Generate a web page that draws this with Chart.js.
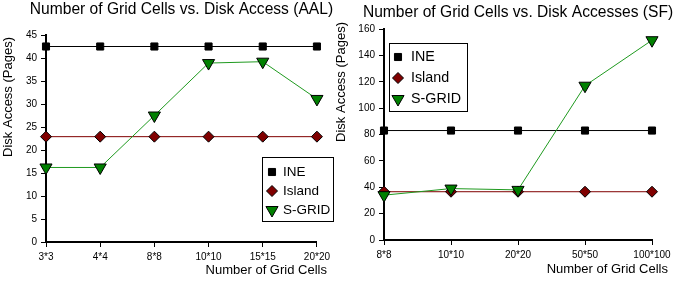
<!DOCTYPE html>
<html>
<head>
<meta charset="utf-8">
<script src="https://cdn.jsdelivr.net/npm/chart.js@4.4.0/dist/chart.umd.min.js"></script>
<style>
  html, body { margin: 0; padding: 0; background: #fff; }
  #wrap { position: relative; width: 681px; height: 284px; }
  canvas { position: absolute; top: 0; }
  #aalChart { left: 0; }
  #sfChart { left: 334px; }
</style>
</head>
<body>
<div id="wrap">
  <canvas id="aalChart" width="334" height="284"></canvas>
  <canvas id="sfChart" width="347" height="284"></canvas>
</div>
<script>
const FONT = "'Liberation Sans', Arial, sans-serif";

// left chart (AAL)
const aalCategories = ["3*3", "4*4", "8*8", "10*10", "15*15", "20*20"];
const aalIne = [42.5, 42.5, 42.5, 42.5, 42.5, 42.5];
const aalIsland = [22.9, 22.9, 22.9, 22.9, 22.9, 22.9];
const aalSgrid = [16.2, 16.2, 27.5, 38.9, 39.2, 31.1];

// right chart (SF)
const sfCategories = ["8*8", "10*10", "20*20", "50*50", "100*100"];
const sfIne = [83, 83, 83, 83, 83];
const sfIsland = [36.6, 36.6, 36.6, 36.6, 36.6];
const sfSgrid = [34, 39, 38, 117, 151.5];

const seriesNames = ["INE", "Island", "S-GRID"];

Chart.defaults.font.family = FONT;
Chart.defaults.color = "#000";

const boxLegend = {
  id: "boxLegend",
  afterDraw(chart, args, opts) {
    const ctx = chart.ctx;
    ctx.save();
    ctx.fillStyle = "#fff";
    ctx.fillRect(opts.x, opts.y, opts.w, opts.h);
    ctx.strokeStyle = "#000";
    ctx.lineWidth = 1;
    ctx.strokeRect(opts.x + 0.5, opts.y + 0.5, opts.w - 1, opts.h - 1);
    ctx.font = `${opts.size}px ${FONT}`;
    ctx.textBaseline = "middle";
    ctx.textAlign = "left";
    chart.data.datasets.forEach((ds, i) => {
      const cy = opts.y + opts.firstRow + i * opts.rowGap;
      ctx.fillStyle = ds.pointBackgroundColor;
      ctx.strokeStyle = ds.pointBorderColor;
      ctx.lineWidth = 1;
      Chart.helpers.drawPoint(ctx, {
        pointStyle: ds.pointStyle,
        rotation: ds.pointRotation || 0,
        radius: opts.markerRadius[i],
        borderWidth: 1,
      }, opts.markerX, cy);
      ctx.fillStyle = "#000";
      ctx.fillText(ds.label, opts.textX, cy);
    });
    ctx.restore();
  },
};

// chart title and axis titles, placed relative to the chart area
const chartTexts = {
  id: "chartTexts",
  afterDraw(chart, args, opts) {
    const { ctx, chartArea } = chart;
    ctx.save();
    ctx.fillStyle = "#000";
    ctx.textBaseline = "middle";

    ctx.font = `${opts.titleSize}px ${FONT}`;
    ctx.textAlign = "center";
    ctx.fillText(opts.title, (chartArea.left + chartArea.right) / 2, opts.titleY);

    ctx.font = `${opts.size}px ${FONT}`;
    ctx.textAlign = "right";
    ctx.fillText(opts.xText, chartArea.right + opts.xDx, chartArea.bottom + opts.xDy);
    ctx.translate(opts.yX, chartArea.top + opts.yDy);
    ctx.rotate(-Math.PI / 2);
    ctx.fillText(opts.yText, 0, 0);
    ctx.restore();
  },
};

function buildDatasets(ine, island, sgrid) {
  return [
    {
      label: seriesNames[0],
      data: ine,
      borderColor: "#000",
      borderWidth: 1,
      pointStyle: "rect",
      pointRadius: 5,
      pointBackgroundColor: "#000",
      pointBorderColor: "#000",
      pointBorderWidth: 1,
      order: 2,
    },
    {
      label: seriesNames[1],
      data: island,
      borderColor: "#800000",
      borderWidth: 1,
      pointStyle: "rectRot",
      pointRadius: 5.5,
      pointBackgroundColor: "#800000",
      pointBorderColor: "#000",
      pointBorderWidth: 1,
      order: 1,
    },
    {
      label: seriesNames[2],
      data: sgrid,
      borderColor: "#1f9a1f",
      borderWidth: 1,
      pointStyle: "triangle",
      pointRotation: 180,
      pointRadius: 7,
      pointBackgroundColor: "#008000",
      pointBorderColor: "#000",
      pointBorderWidth: 1,
      order: 0,
    },
  ];
}

function makeChart(canvasId, o) {
  return new Chart(document.getElementById(canvasId), {
    type: "line",
    data: {
      labels: o.categories,
      datasets: buildDatasets(o.ine, o.island, o.sgrid),
    },
    options: {
      responsive: false,
      animation: false,
      layout: { padding: { left: 0, right: o.padRight, top: o.padTop, bottom: 0 } },
      elements: { line: { tension: 0, fill: false } },
      plugins: {
        legend: { display: false },
        tooltip: { enabled: false },
        title: { display: false },
        boxLegend: o.legend,
        chartTexts: o.texts,
      },
      scales: {
        x: {
          offset: false,
          grid: { display: true, drawOnChartArea: false, drawTicks: true, tickLength: 5, color: "#000", lineWidth: 1 },
          border: { display: true, color: "#000", width: 2 },
          ticks: { font: { size: 10 }, color: "#000", padding: 4, maxRotation: 0, autoSkip: false },
          afterFit: (s) => { s.height = o.xHeight; },
        },
        y: {
          min: 0,
          max: o.yMax,
          grid: { display: true, drawOnChartArea: false, drawTicks: true, tickLength: 5, color: "#000", lineWidth: 1 },
          border: { display: true, color: "#000", width: 2 },
          ticks: { stepSize: o.yStep, font: { size: 10 }, color: "#000", padding: 4 },
          afterFit: (s) => { s.width = o.yWidth; },
        },
      },
    },
    plugins: [boxLegend, chartTexts],
  });
}

makeChart("aalChart", {
  categories: aalCategories,
  ine: aalIne,
  island: aalIsland,
  sgrid: aalSgrid,
  padTop: 35,
  padRight: 14,
  yWidth: 46,
  xHeight: 42,
  yMax: 45,
  yStep: 5,
  legend: { x: 262, y: 157, w: 72, h: 65, firstRow: 15, rowGap: 19, markerX: 272, textX: 283, size: 13.5, markerRadius: [5, 5.5, 7] },
  texts: {
    title: "Number of Grid Cells vs. Disk Access (AAL)", titleSize: 15.6, titleY: 10,
    size: 13, xText: "Number of Grid Cells", xDx: 10, xDy: 28,
    yText: "Disk Access (Pages)", yX: 8, yDy: 2,
  },
});

makeChart("sfChart", {
  categories: sfCategories,
  ine: sfIne,
  island: sfIsland,
  sgrid: sfSgrid,
  padTop: 29,
  padRight: 29,
  yWidth: 50,
  xHeight: 44,
  yMax: 160,
  yStep: 10,
  legend: { x: 55, y: 43, w: 79, h: 69, firstRow: 14, rowGap: 21, markerX: 64, textX: 77, size: 14.3, markerRadius: [5, 5.5, 7] },
  texts: {
    title: "Number of Grid Cells vs. Disk Accesses (SF)", titleSize: 15.6, titleY: 13,
    size: 13, xText: "Number of Grid Cells", xDx: 16, xDy: 29,
    yText: "Disk Access (Pages)", yX: 7, yDy: -7,
  },
});
</script>
</body>
</html>
